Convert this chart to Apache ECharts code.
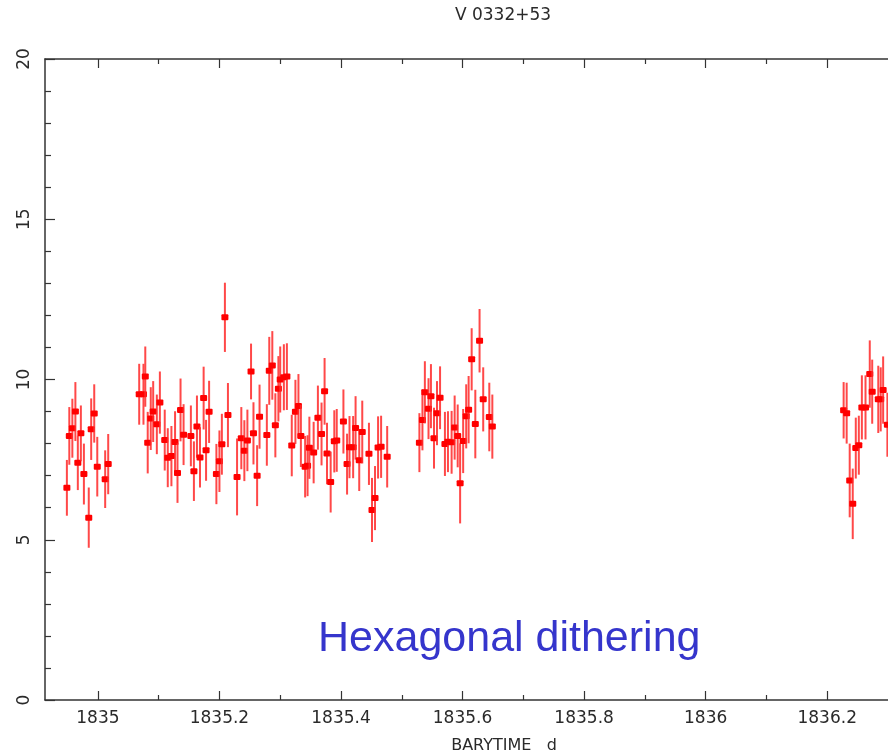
<!DOCTYPE html>
<html>
<head>
<meta charset="utf-8">
<script src="https://cdn.jsdelivr.net/npm/echarts@6/dist/echarts.min.js"></script>
<style>html,body{margin:0;padding:0;background:#fff}#c{width:888px;height:756px}</style>
</head>
<body>
<div id="c"></div>
<script>
// ---- data ----
const time = [
  1834.949,1834.953,1834.958,1834.963,1834.967,1834.972,1834.977,1834.985,1834.989,1834.994,1834.999,1835.012,1835.017,
  1835.068,1835.075,1835.078,1835.082,1835.087,1835.091,1835.097,1835.102,1835.110,1835.115,1835.121,1835.127,1835.131,1835.136,1835.141,
  1835.153,1835.158,1835.163,1835.168,1835.174,1835.178,1835.183,1835.195,1835.200,1835.204,1835.209,1835.214,
  1835.229,1835.236,1835.241,1835.246,1835.252,1835.256,1835.262,1835.266,1835.278,1835.282,1835.287,1835.292,1835.297,1835.300,
  1835.306,1835.311,1835.319,1835.325,1835.330,1835.334,1835.341,1835.345,1835.348,1835.355,1835.362,1835.368,1835.373,1835.377,
  1835.383,1835.389,1835.393,1835.404,1835.410,1835.414,1835.420,1835.424,1835.430,1835.435,1835.446,1835.451,1835.456,1835.461,1835.466,1835.476,
  1835.529,1835.534,1835.538,1835.544,1835.548,1835.553,1835.558,1835.563,1835.571,1835.576,1835.582,1835.587,1835.592,1835.596,
  1835.601,1835.606,1835.610,1835.615,1835.621,1835.628,1835.634,1835.644,1835.649,
  1836.227,1836.232,1836.237,1836.242,1836.247,1836.252,1836.257,1836.263,1836.270,1836.274,1836.284,1836.288,1836.292,1836.299
];
const rate = [
  6.62,8.24,8.48,9.00,7.40,8.32,7.05,5.69,8.45,8.94,7.28,6.89,7.36,
  9.54,9.54,10.09,8.03,8.78,9.00,8.60,9.28,8.11,7.56,7.61,8.05,7.08,9.05,8.28,
  8.24,7.14,8.53,7.57,9.42,7.79,8.99,7.05,7.45,7.98,11.94,8.89,
  6.96,8.17,7.78,8.10,10.25,8.32,7.00,8.84,8.27,10.27,10.44,8.57,9.71,10.00,
  10.07,10.09,7.94,8.99,9.17,8.24,7.28,7.31,7.87,7.72,8.81,8.30,9.63,7.69,
  6.80,8.07,8.10,8.69,7.36,7.89,7.89,8.49,7.48,8.36,7.68,5.93,6.30,7.88,7.90,7.59,
  8.03,8.74,9.60,9.09,9.48,8.17,8.95,9.43,7.99,8.06,8.04,8.50,8.24,6.76,
  8.08,8.85,9.06,10.63,8.61,11.21,9.38,8.83,8.53,
  9.04,8.95,6.85,6.12,7.86,7.95,9.13,9.13,10.17,9.62,9.38,9.38,9.67,8.59
];
const rateErr = [
  0.87,0.90,0.92,0.92,0.85,0.87,0.95,0.94,0.96,0.91,0.93,0.90,0.94,
  0.95,0.95,0.94,0.96,0.98,0.95,0.93,0.97,0.95,0.92,0.94,0.96,0.93,0.98,0.95,
  0.95,0.93,0.97,0.94,0.98,0.95,0.97,0.94,0.96,0.95,1.08,1.00,
  1.20,0.97,0.95,0.96,0.87,0.97,0.95,1.00,0.96,1.06,1.07,1.00,1.02,1.03,
  1.03,1.04,0.96,1.00,1.00,0.97,0.96,0.95,0.97,0.96,1.00,0.98,1.04,0.96,
  0.95,0.97,0.98,1.00,0.95,0.97,0.97,0.99,0.96,0.98,0.97,1.00,1.00,0.97,0.97,0.96,
  0.92,0.95,0.97,0.95,1.00,0.95,1.00,0.98,1.00,0.95,0.98,1.00,0.98,1.25,
  1.00,1.00,1.05,0.97,1.07,0.99,1.00,1.07,1.00,
  0.88,0.95,1.15,1.10,0.95,0.92,1.00,1.00,1.05,1.00,1.05,1.00,1.05,1.00
];
const xMajorTicks = [1835, 1835.2, 1835.4, 1835.6, 1835.8, 1836, 1836.2];
const xTickLabels = ['1835', '1835.2', '1835.4', '1835.6', '1835.8', '1836', '1836.2'];
const xMinorTicks = [1835.1, 1835.3, 1835.5, 1835.7, 1835.9, 1836.1];
const yTicks = [0, 5, 10, 15, 20];
const titleText = 'V 0332+53';
const xName = 'BARYTIME   d';
const note = 'Hexagonal dithering';

// ---- chart ----
const points = time.map((t, i) => [t, rate[i], rateErr[i]]);
const X_MIN = 1834.913, X_MAX = 1836.3;
const axisColor = '#333';
const labelFont = 'DejaVu Sans';

function xAxisBase(pos, ticks, len, showLine, showLabel) {
  return {
    type: 'value', position: pos, min: X_MIN, max: X_MAX,
    axisLine: { show: showLine, onZero: false, lineStyle: { color: axisColor, width: 1.5 } },
    axisTick: { show: true, inside: true, length: len, customValues: ticks, lineStyle: { color: axisColor, width: 1.2 } },
    axisLabel: showLabel ? {
      show: true, customValues: ticks, margin: 10, fontFamily: labelFont, fontSize: 17, color: '#2a2a2a',
      formatter: v => { const k = xMajorTicks.findIndex(t => Math.abs(t - v) < 1e-6); return k >= 0 ? xTickLabels[k] : ''; }
    } : { show: false },
    splitLine: { show: false }
  };
}

const chart = echarts.init(document.getElementById('c'), null, { renderer: 'canvas' });
chart.setOption({
  animation: false,
  backgroundColor: '#fff',
  grid: { left: 45, right: 0, top: 59, bottom: 56, containLabel: false },
  xAxis: [
    xAxisBase('bottom', xMajorTicks, 9, true, true),
    xAxisBase('top', xMajorTicks, 9, true, false),
    xAxisBase('bottom', xMinorTicks, 5, false, false),
    xAxisBase('top', xMinorTicks, 5, false, false)
  ],
  yAxis: [{
    type: 'value', position: 'left', min: 0, max: 20, interval: 5,
    axisLine: { show: true, onZero: false, lineStyle: { color: axisColor, width: 1.5 } },
    axisTick: { show: true, inside: true, length: 10, lineStyle: { color: axisColor, width: 1.2 } },
    minorTick: { show: true, splitNumber: 5, length: 6, lineStyle: { color: axisColor, width: 1.2 } },
    axisLabel: { show: true, rotate: 90, margin: 12, fontFamily: labelFont, fontSize: 17, color: '#2a2a2a',
      customValues: yTicks },
    splitLine: { show: false }
  }],
  graphic: [
    { type: 'text', left: null, x: 503, y: 16, style: { text: titleText, font: '17px "DejaVu Sans"', fill: '#2a2a2a', textAlign: 'center', textVerticalAlign: 'middle' } },
    { type: 'text', x: 504, y: 746, style: { text: xName, font: '16px "DejaVu Sans"', fill: '#2a2a2a', textAlign: 'center', textVerticalAlign: 'middle' } },
    { type: 'text', x: 318, y: 639, style: { text: note, font: '43px "Liberation Sans", Arial, sans-serif', fill: '#3535cc', textAlign: 'left', textVerticalAlign: 'middle' } }
  ],
  series: [{
    type: 'custom',
    xAxisIndex: 0, yAxisIndex: 0,
    clip: true,
    encode: { x: 0, y: 1 },
    data: points,
    renderItem: function (params, api) {
      const x = api.value(0), y = api.value(1), e = api.value(2);
      const p = api.coord([x, y]);
      const hi = api.coord([x, y + e]);
      const lo = api.coord([x, y - e]);
      return {
        type: 'group',
        children: [
          { type: 'line', shape: { x1: p[0], y1: hi[1], x2: p[0], y2: lo[1] }, style: { stroke: 'rgba(255,40,40,0.85)', lineWidth: 2 } },
          { type: 'rect', shape: { x: p[0] - 3.5, y: p[1] - 3, width: 7, height: 6, r: 1 }, style: { fill: '#ff0000' } }
        ]
      };
    }
  }]
});
</script>
</body>
</html>
